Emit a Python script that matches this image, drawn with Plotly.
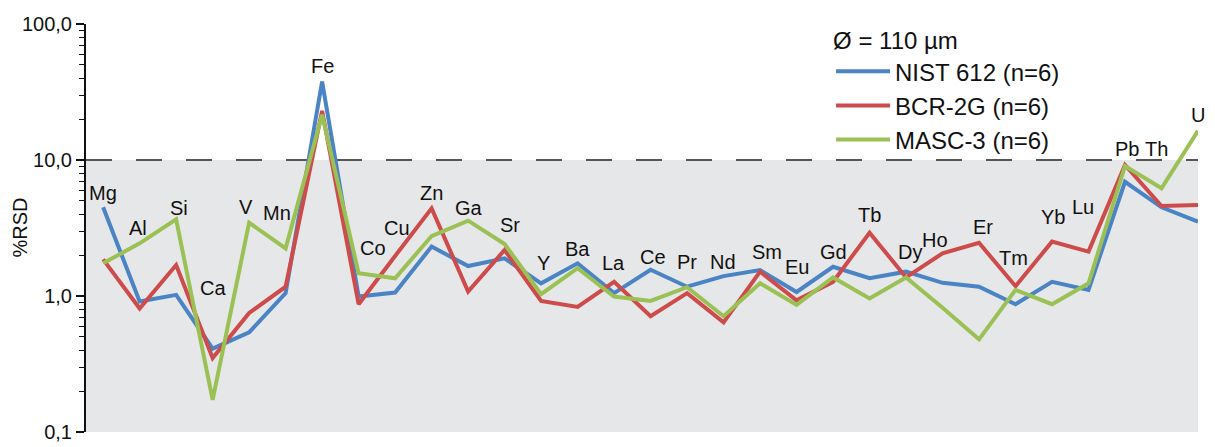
import math
import plotly.graph_objects as go

elements = ["Mg", "Al", "Si", "Ca", "V", "Mn", "Fe", "Co", "Cu", "Zn", "Ga", "Sr", "Y", "Ba", "La", "Ce",
            "Pr", "Nd", "Sm", "Eu", "Gd", "Tb", "Dy", "Ho", "Er", "Tm", "Yb", "Lu", "Pb", "Th", "U"]

nist612 = [4.49, 0.91, 1.02, 0.41, 0.54, 1.05, 37.7, 0.99, 1.06, 2.31, 1.66, 1.89, 1.24, 1.74, 1.05, 1.56,
           1.17, 1.40, 1.55, 1.07, 1.64, 1.35, 1.51, 1.25, 1.17, 0.87, 1.27, 1.11, 6.92, 4.49, 3.52]
bcr2g = [1.86, 0.81, 1.69, 0.35, 0.75, 1.17, 23.0, 0.87, 1.97, 4.41, 1.08, 2.18, 0.92, 0.83, 1.27, 0.71,
         1.05, 0.64, 1.51, 0.93, 1.27, 2.92, 1.37, 2.06, 2.46, 1.18, 2.51, 2.12, 9.19, 4.59, 4.67]
masc3 = [1.74, 2.44, 3.66, 0.172, 3.46, 2.24, 21.5, 1.47, 1.35, 2.76, 3.58, 2.41, 1.03, 1.60, 0.99, 0.92,
         1.16, 0.71, 1.24, 0.86, 1.37, 0.96, 1.37, 0.82, 0.48, 1.11, 0.87, 1.24, 9.03, 6.19, 16.4]

series_names = ["NIST 612 (n=6)", "BCR-2G (n=6)", "MASC-3 (n=6)"]
legend_title = "Ø = 110 µm"
y_tickvals = [0.1, 1, 10, 100]
y_ticktext = ["0,1", "1,0", "10,0", "100,0"]
threshold = 10

# label placement (layout): label centre in log10(%RSD) units and horizontal pixel shift
label_ylog = [0.757, 0.50, 0.647, 0.059, 0.654, 0.610, 1.691, 0.353, 0.50, 0.757, 0.647, 0.522, 0.243,
              0.346, 0.243, 0.287, 0.25, 0.25, 0.324, 0.213, 0.324, 0.596, 0.324, 0.412, 0.507, 0.279,
              0.581, 0.654, 1.081, 1.081, 1.331]
label_dx = [0, -2, 3, 0, -3, -9, 0, 14, 2, 0, 1, 5, 2, 0, -1, 2, 0, -1, 7, 0, 0, 0, 4, -8, 4, -2, 1, -6,
            2, -5, 0]

colors = ["#4a84c5", "#cd4b4b", "#9bc155"]
FONT = "Liberation Sans, Arial, sans-serif"

x = list(range(len(elements)))
fig = go.Figure()
for name, vals, col in zip(series_names, [nist612, bcr2g, masc3], colors):
    fig.add_trace(go.Scatter(x=x, y=vals, mode="lines", name=name,
                             line=dict(color=col, width=4), hoverinfo="skip"))

# shaded area below threshold and dashed threshold line
fig.add_shape(type="rect", xref="paper", yref="y", x0=0, x1=1, y0=0.1, y1=threshold,
              fillcolor="#e6e7e8", line_width=0, layer="below")
fig.add_shape(type="line", xref="paper", yref="y", x0=0, x1=1, y0=threshold, y1=threshold,
              line=dict(color="#555555", width=2, dash="26px,24px"), layer="below")

for i, el in enumerate(elements):
    fig.add_annotation(x=i, y=label_ylog[i], text=el, showarrow=False, xshift=label_dx[i],
                       font=dict(family=FONT, size=20, color="#111111"), xanchor="center", yanchor="middle")

fig.add_annotation(xref="paper", yref="paper", x=-0.0598, y=0.5, text="%RSD", textangle=-90,
                   showarrow=False, font=dict(family=FONT, size=20, color="#111111"),
                   xanchor="center", yanchor="middle")

minor_vals = [m * 10 ** d for d in (-1, 0, 1) for m in range(2, 10)]

fig.update_layout(
    width=1215, height=447,
    margin=dict(l=86, r=17, t=24, b=15, autoexpand=False),
    paper_bgcolor="white", plot_bgcolor="white",
    font=dict(family=FONT, size=20, color="#111111"),
    showlegend=True,
    legend=dict(x=0.67, y=1.015, xanchor="left", yanchor="top",
                title=dict(text=legend_title, font=dict(size=24), side="top"),
                font=dict(size=24), bgcolor="rgba(0,0,0,0)", itemwidth=54,
                tracegroupgap=0),
    xaxis=dict(visible=False, range=[-0.47, len(elements) - 1]),
    yaxis=dict(type="log", range=[-1, 2], tickmode="array", tickvals=y_tickvals, ticktext=y_ticktext,
               ticks="outside", ticklen=8, tickwidth=1.5, tickcolor="#111111", automargin=False,
               showline=True, linecolor="#111111", linewidth=2, showgrid=False, zeroline=False,
               tickfont=dict(size=20, color="#111111"),
               minor=dict(tickmode="array", tickvals=minor_vals, ticks="outside", ticklen=5,
                          tickwidth=1, tickcolor="#111111", showgrid=False)),
)

fig.write_html("out.html", config={"displayModeBar": False},
               post_script="document.body.style.margin='0';")
